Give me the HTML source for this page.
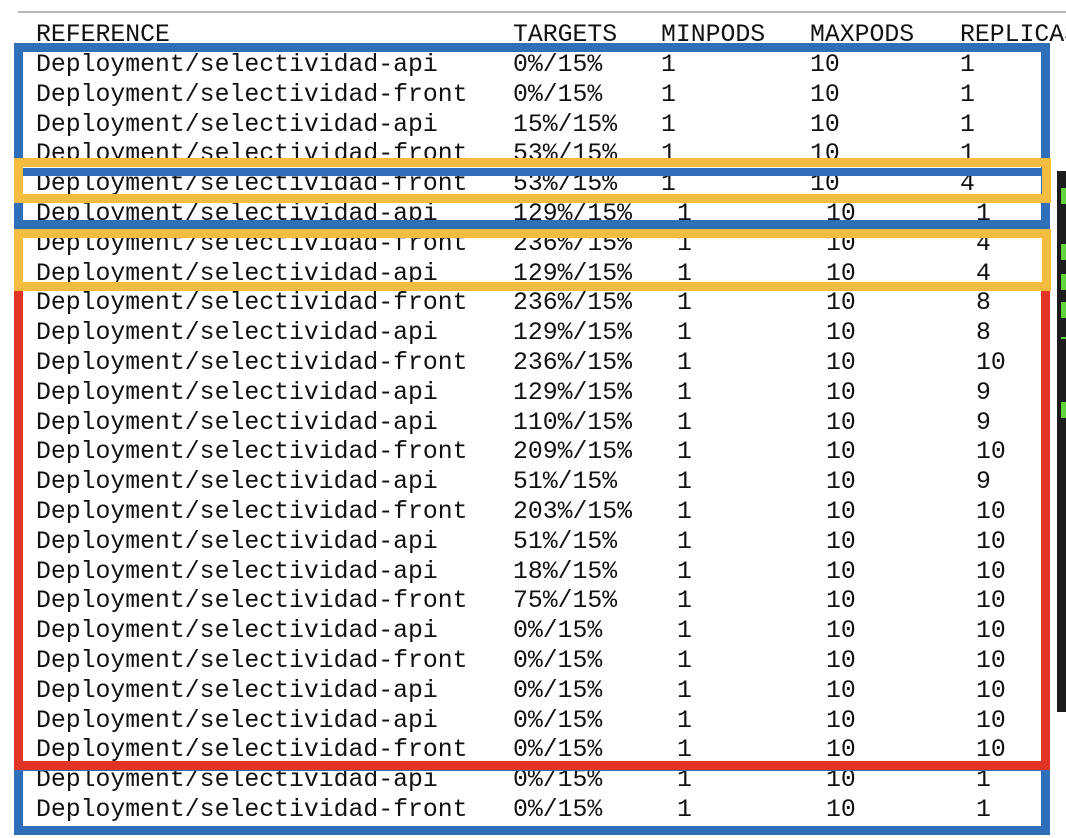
<!DOCTYPE html>
<html><head><meta charset="utf-8">
<style>
html,body{margin:0;padding:0;background:#fff;width:1066px;height:838px;overflow:hidden;position:relative}
.t{position:absolute;font-family:"Liberation Mono","DejaVu Sans Mono",monospace;font-size:24.8px;line-height:30px;color:#111;white-space:pre}
.b{position:absolute;box-sizing:border-box}
</style></head><body>
<div class="b" style="left:18px;top:11px;width:1048px;height:2px;background:#b8b8b8"></div>
<div class="b" style="left:1057px;top:171px;width:9px;height:541px;background:#1c1c1c"></div>
<div class="b" style="left:1061px;top:186px;width:5px;height:240px">
 <div style="position:absolute;top:2px;width:5px;height:16px;background:#5fd33a"></div>
 <div style="position:absolute;top:58px;width:5px;height:16px;background:#5fd33a"></div>
 <div style="position:absolute;top:88px;width:5px;height:16px;background:#5fd33a"></div>
 <div style="position:absolute;top:116px;width:5px;height:16px;background:#5fd33a"></div>
 <div style="position:absolute;top:151px;width:5px;height:2px;background:#5fd33a"></div>
 <div style="position:absolute;top:216px;width:5px;height:16px;background:#5fd33a"></div>
</div>
<div id="rows"></div>
<div class="b" style="left:14px;top:762px;width:1036px;height:73px;border:9px solid #2f6fba"></div>
<div class="b" style="left:14px;top:282px;width:1036px;height:488px;border:9px solid #e23424"></div>
<div class="b" style="left:14px;top:43px;width:1036px;height:186px;border:9px solid #2f6fba"></div>
<div class="b" style="left:14px;top:168px;width:1036px;height:8px;background:#2f6fba"></div>
<div class="b" style="left:14px;top:158px;width:1037px;height:45px;border:9px solid #f4bd3f"></div>
<div class="b" style="left:14px;top:229px;width:1037px;height:62px;border:9px solid #f4bd3f"></div>
<script>
const refs=["api","front","api","front","front","api","front","api","front","api","front","api","api","front","api","front","api","api","front","api","front","api","api","front","api","front"];
const targets=["0%/15%","0%/15%","15%/15%","53%/15%","53%/15%","129%/15%","236%/15%","129%/15%","236%/15%","129%/15%","236%/15%","129%/15%","110%/15%","209%/15%","51%/15%","203%/15%","51%/15%","18%/15%","75%/15%","0%/15%","0%/15%","0%/15%","0%/15%","0%/15%","0%/15%","0%/15%"];
const minpods=[1,1,1,1,1,1,1,1,1,1,1,1,1,1,1,1,1,1,1,1,1,1,1,1,1,1];
const maxpods=[10,10,10,10,10,10,10,10,10,10,10,10,10,10,10,10,10,10,10,10,10,10,10,10,10,10];
const replicas=[1,1,1,1,4,1,4,4,8,8,10,9,9,10,9,10,10,10,10,10,10,10,10,10,1,1];
const headers=["REFERENCE","TARGETS","MINPODS","MAXPODS","REPLICAS"];
const root=document.getElementById('rows');
function put(txt,x,y,name){
  const d=document.createElement('div');
  d.className='t';
  d.textContent=txt;
  d.style.left=x+'px';d.style.top=y+'px';
  
  
  root.appendChild(d);
}
const hx=[36,513,661,810,960];
headers.forEach((h,i)=>put(h,hx[i],20,'header-'+h.toLowerCase()));
for(let i=0;i<refs.length;i++){
  const y=50+i*29.8;
  const s=i>=5?16:0;
  put('Deployment/selectividad-'+refs[i],36,y,'row-reference');
  put(targets[i],513,y,'row-targets');
  put(String(minpods[i]),661+s,y,'row-minpods');
  put(String(maxpods[i]),810+s,y,'row-maxpods');
  put(String(replicas[i]),960+s,y,'row-replicas');
}
</script>
</body></html>
